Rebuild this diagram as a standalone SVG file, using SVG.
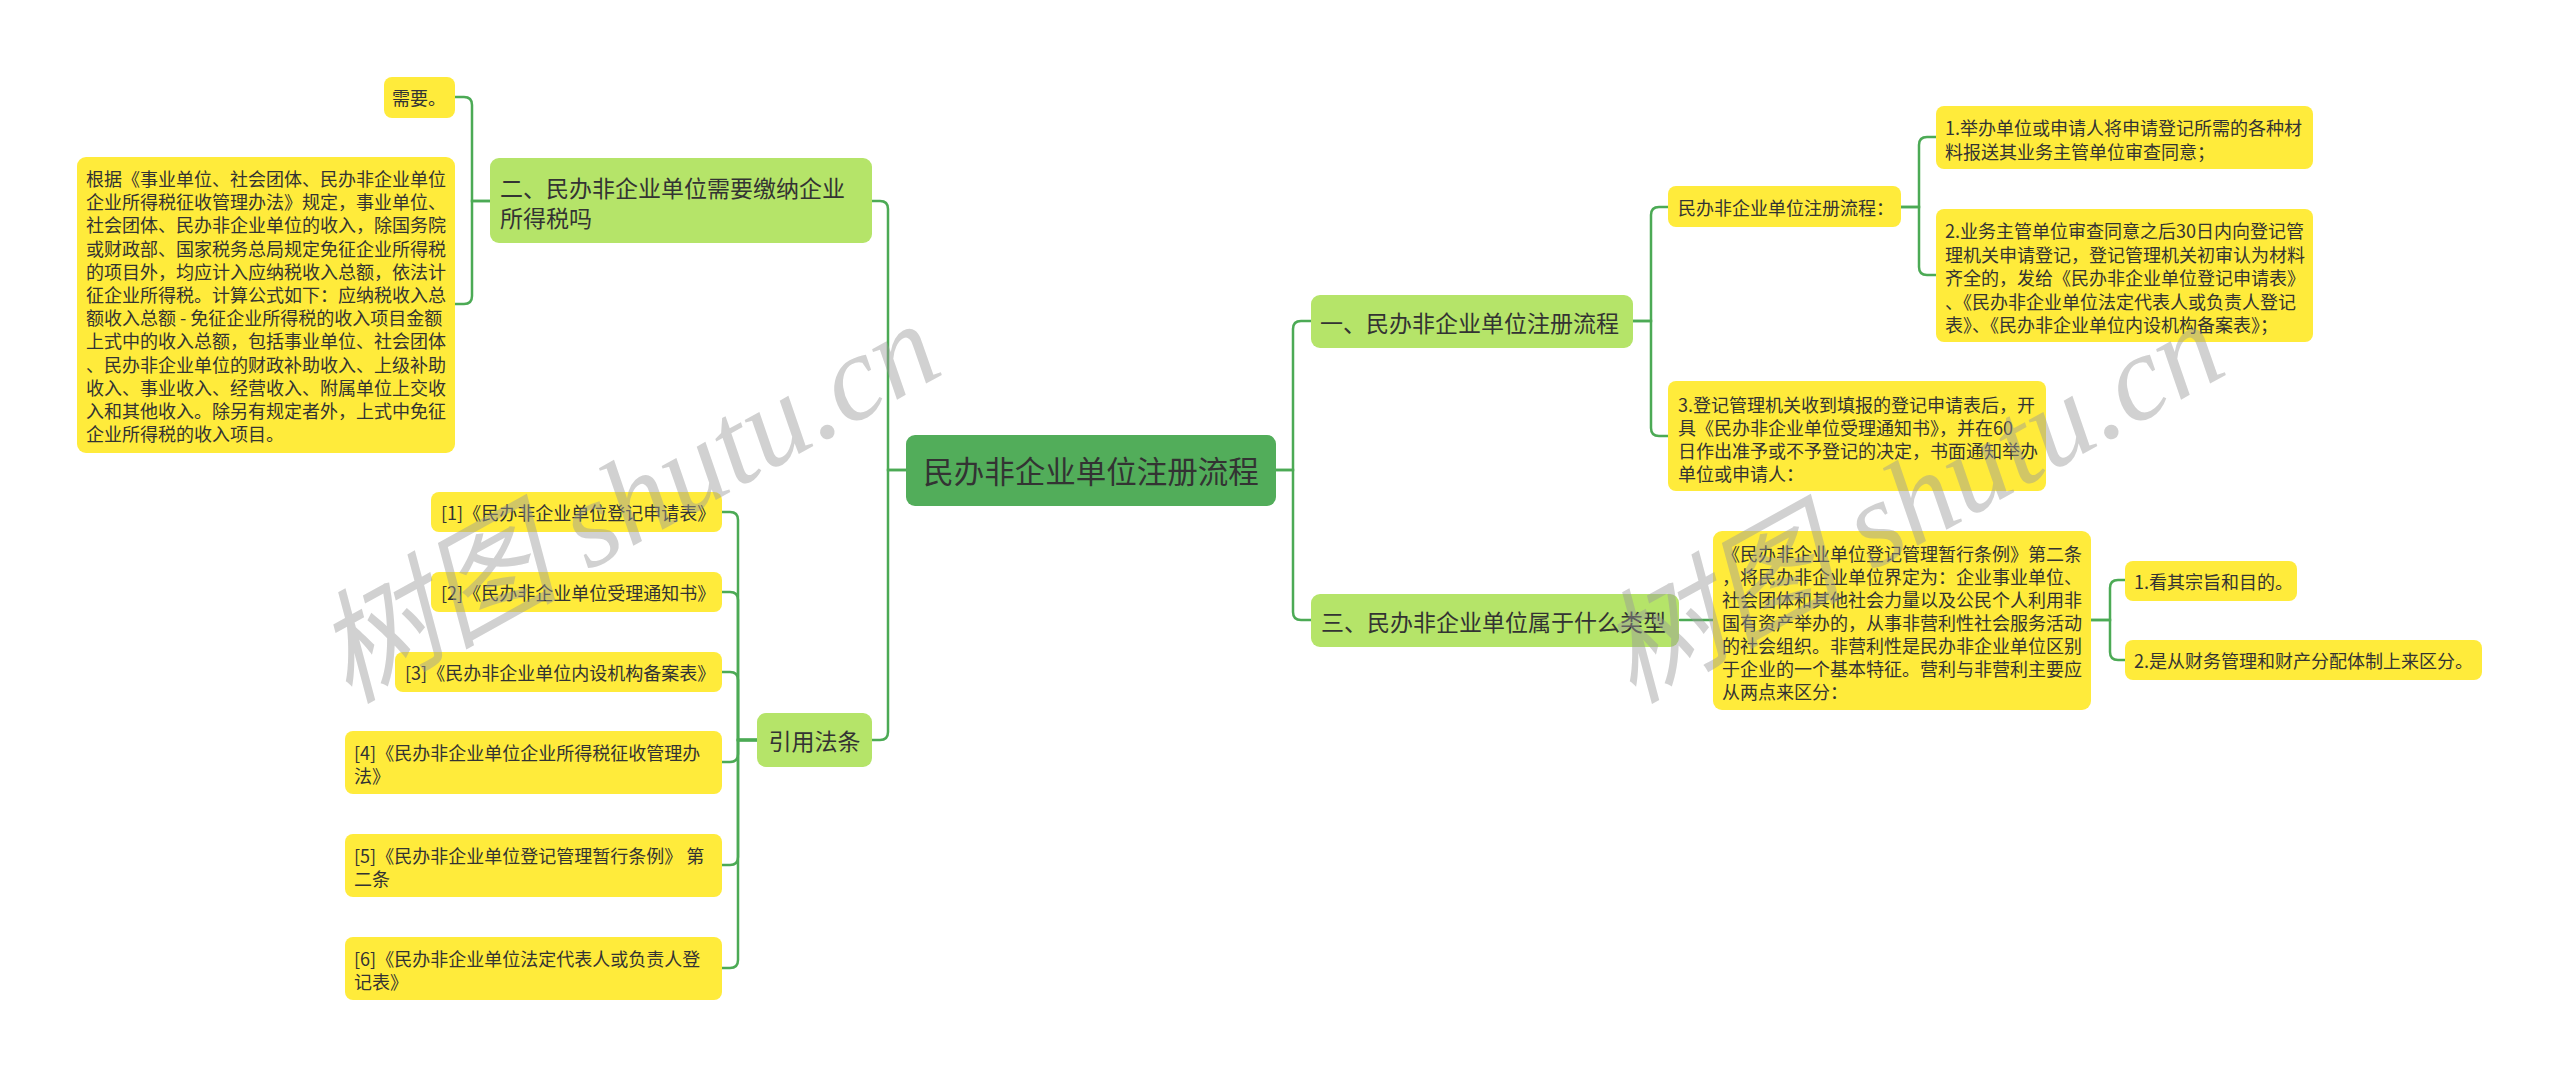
<svg xmlns="http://www.w3.org/2000/svg" width="2560" height="1078" viewBox="0 0 2560 1078">
<style>
.bg{fill:#ffffff}
.root{fill:#52ad5a}
.l1{fill:#b5e469}
.leaf{fill:#ffeb3b}
text{font-family:"Noto Sans CJK SC","Liberation Sans",sans-serif;fill:#333333;dominant-baseline:central}
.t30{font-size:30.5px}
.t23{font-size:23px}
.t18{font-size:18px}
.conn path{fill:none;stroke:#4caa55;stroke-width:2.5;stroke-linecap:round}
.wm{font-family:"Liberation Serif","Noto Sans CJK SC",serif;font-style:italic;font-size:122px;fill:#9a9a9a;opacity:0.45;dominant-baseline:alphabetic}
</style>
<rect class="bg" x="0" y="0" width="2560" height="1078"/>

<g id="connectors" class="conn">
  <path d="M906 470 H888 V209 Q888 201 880 201 H872"/>
  <path d="M906 470 H888 V732 Q888 740 880 740 H872"/>
  <path d="M1276 470 H1293 V329 Q1293 321 1301 321 H1311"/>
  <path d="M1276 470 H1293 V612 Q1293 620 1301 620 H1311"/>
  <path d="M490 201 H472 V105 Q472 97 464 97 H455"/>
  <path d="M490 201 H472 V296 Q472 304 464 304 H455"/>
  <path d="M757 740 H738 V520 Q738 512 730 512 H722"/>
  <path d="M757 740 H738 V600 Q738 592 730 592 H722"/>
  <path d="M757 740 H738 V680 Q738 672 730 672 H722"/>
  <path d="M757 740 H738 V754 Q738 762 730 762 H722"/>
  <path d="M757 740 H738 V857 Q738 865 730 865 H722"/>
  <path d="M757 740 H738 V960 Q738 968 730 968 H722"/>
  <path d="M1633 321 H1651 V215 Q1651 207 1659 207 H1668"/>
  <path d="M1633 321 H1651 V428 Q1651 436 1659 436 H1668"/>
  <path d="M1901 207 H1919 V145 Q1919 137 1927 137 H1936"/>
  <path d="M1901 207 H1919 V267 Q1919 275 1927 275 H1936"/>
  <path d="M1680 620 H1713"/>
  <path d="M2091 620 H2110 V588 Q2110 580 2118 580 H2125"/>
  <path d="M2091 620 H2110 V652 Q2110 660 2118 660 H2125"/>
</g>

<g id="root">
  <rect class="root" x="906" y="435" width="370" height="71" rx="9"/>
  <text class="t30" x="1091" y="470" text-anchor="middle">民办非企业单位注册流程</text>
</g>

<g id="n-er">
  <rect class="l1" x="490" y="158" width="382" height="85" rx="9"/>
  <text class="t23" x="500" y="187">二、民办非企业单位需要缴纳企业</text>
  <text class="t23" x="500" y="217">所得税吗</text>
</g>
<g id="n-xuyao">
  <rect class="leaf" x="384" y="77" width="71" height="41" rx="8"/>
  <text class="t18" x="392" y="97">需要。</text>
</g>
<g id="n-genju">
  <rect class="leaf" x="77" y="157" width="378" height="296" rx="9"/>
  <text class="t18" x="86" y="178">根据《事业单位、社会团体、民办非企业单位</text>
  <text class="t18" x="86" y="201.2">企业所得税征收管理办法》规定，事业单位、</text>
  <text class="t18" x="86" y="224.4">社会团体、民办非企业单位的收入，除国务院</text>
  <text class="t18" x="86" y="247.6">或财政部、国家税务总局规定免征企业所得税</text>
  <text class="t18" x="86" y="270.8">的项目外，均应计入应纳税收入总额，依法计</text>
  <text class="t18" x="86" y="294">征企业所得税。计算公式如下：应纳税收入总</text>
  <text class="t18" x="86" y="317.2">额收入总额 - 免征企业所得税的收入项目金额</text>
  <text class="t18" x="86" y="340.4">上式中的收入总额，包括事业单位、社会团体</text>
  <text class="t18" x="86" y="363.6">、民办非企业单位的财政补助收入、上级补助</text>
  <text class="t18" x="86" y="386.8">收入、事业收入、经营收入、附属单位上交收</text>
  <text class="t18" x="86" y="410">入和其他收入。除另有规定者外，上式中免征</text>
  <text class="t18" x="86" y="433.2">企业所得税的收入项目。</text>
</g>

<g id="n-yinyong">
  <rect class="l1" x="757" y="713" width="115" height="54" rx="9"/>
  <text class="t23" x="814.5" y="740" text-anchor="middle">引用法条</text>
</g>
<g id="n-ref1">
  <rect class="leaf" x="431" y="492" width="291" height="40" rx="8"/>
  <text class="t18" x="441" y="512">[1]《民办非企业单位登记申请表》</text>
</g>
<g id="n-ref2">
  <rect class="leaf" x="431" y="572" width="291" height="40" rx="8"/>
  <text class="t18" x="441" y="592">[2]《民办非企业单位受理通知书》</text>
</g>
<g id="n-ref3">
  <rect class="leaf" x="395" y="652" width="327" height="40" rx="8"/>
  <text class="t18" x="405" y="672">[3]《民办非企业单位内设机构备案表》</text>
</g>
<g id="n-ref4">
  <rect class="leaf" x="345" y="731" width="377" height="63" rx="8"/>
  <text class="t18" x="354" y="752">[4]《民办非企业单位企业所得税征收管理办</text>
  <text class="t18" x="354" y="775">法》</text>
</g>
<g id="n-ref5">
  <rect class="leaf" x="345" y="834" width="377" height="63" rx="8"/>
  <text class="t18" x="354" y="855">[5]《民办非企业单位登记管理暂行条例》 第</text>
  <text class="t18" x="354" y="878">二条</text>
</g>
<g id="n-ref6">
  <rect class="leaf" x="345" y="937" width="377" height="63" rx="8"/>
  <text class="t18" x="354" y="958">[6]《民办非企业单位法定代表人或负责人登</text>
  <text class="t18" x="354" y="981">记表》</text>
</g>

<g id="n-yi">
  <rect class="l1" x="1311" y="295" width="322" height="53" rx="9"/>
  <text class="t23" x="1320" y="321.5">一、民办非企业单位注册流程</text>
</g>
<g id="n-liucheng">
  <rect class="leaf" x="1668" y="186" width="233" height="41" rx="8"/>
  <text class="t18" x="1678" y="207">民办非企业单位注册流程：</text>
</g>
<g id="n-step1">
  <rect class="leaf" x="1936" y="106" width="377" height="63" rx="8"/>
  <text class="t18" x="1945" y="127">1.举办单位或申请人将申请登记所需的各种材</text>
  <text class="t18" x="1945" y="151">料报送其业务主管单位审查同意；</text>
</g>
<g id="n-step2">
  <rect class="leaf" x="1936" y="209" width="377" height="133" rx="8"/>
  <text class="t18" x="1945" y="230">2.业务主管单位审查同意之后30日内向登记管</text>
  <text class="t18" x="1945" y="253.5">理机关申请登记，登记管理机关初审认为材料</text>
  <text class="t18" x="1945" y="277">齐全的，发给《民办非企业单位登记申请表》</text>
  <text class="t18" x="1945" y="300.5">、《民办非企业单位法定代表人或负责人登记</text>
  <text class="t18" x="1945" y="324">表》、《民办非企业单位内设机构备案表》；</text>
</g>
<g id="n-step3">
  <rect class="leaf" x="1668" y="381" width="378" height="110" rx="8"/>
  <text class="t18" x="1678" y="404">3.登记管理机关收到填报的登记申请表后，开</text>
  <text class="t18" x="1678" y="427">具《民办非企业单位受理通知书》，并在60</text>
  <text class="t18" x="1678" y="450">日作出准予或不予登记的决定，书面通知举办</text>
  <text class="t18" x="1678" y="473">单位或申请人：</text>
</g>

<g id="n-san">
  <rect class="l1" x="1311" y="594" width="368" height="53" rx="9"/>
  <text class="t23" x="1321" y="621">三、民办非企业单位属于什么类型</text>
</g>
<g id="n-tiaoli">
  <rect class="leaf" x="1713" y="531" width="378" height="179" rx="9"/>
  <text class="t18" x="1722" y="553">《民办非企业单位登记管理暂行条例》第二条</text>
  <text class="t18" x="1722" y="576">，将民办非企业单位界定为：企业事业单位、</text>
  <text class="t18" x="1722" y="599">社会团体和其他社会力量以及公民个人利用非</text>
  <text class="t18" x="1722" y="622">国有资产举办的，从事非营利性社会服务活动</text>
  <text class="t18" x="1722" y="645">的社会组织。非营利性是民办非企业单位区别</text>
  <text class="t18" x="1722" y="668">于企业的一个基本特征。营利与非营利主要应</text>
  <text class="t18" x="1722" y="691">从两点来区分：</text>
</g>
<g id="n-kan">
  <rect class="leaf" x="2125" y="561" width="172" height="40" rx="8"/>
  <text class="t18" x="2134" y="581">1.看其宗旨和目的。</text>
</g>
<g id="n-cai">
  <rect class="leaf" x="2125" y="640" width="357" height="40" rx="8"/>
  <text class="t18" x="2134" y="660">2.是从财务管理和财产分配体制上来区分。</text>
</g>

<g id="watermarks">
  <text class="wm" x="348" y="704" transform="rotate(-29 348 704)">树图 shutu.cn</text>
  <text class="wm" x="1632" y="704" transform="rotate(-29 1632 704)">树图 shutu.cn</text>
</g>
</svg>
